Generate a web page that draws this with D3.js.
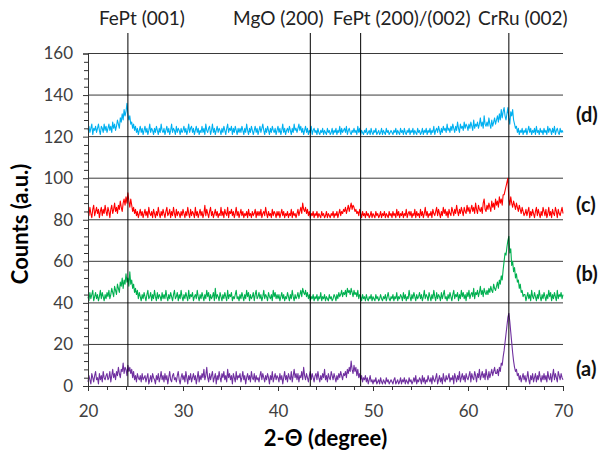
<!DOCTYPE html>
<html>
<head>
<meta charset="utf-8">
<script src="https://cdn.jsdelivr.net/npm/d3@7"></script>
<style>
  body { margin: 0; background: #fff; }
  svg { font-family: Lato, "Open Sans", sans-serif; }
</style>
</head>
<body>
<svg id="chart"></svg>
<script>
const width = 603, height = 451;
const margin = { top: 53.5, right: 40, bottom: 65, left: 88 };

// 2-theta sampling, 20..70 deg in 0.1 deg steps
const angles = d3.range(0, 501).map(i => +(20 + i * 0.1).toFixed(1));

// (a) purple
const seriesA = [
  2,5,3,1,6,4,2,5,7,3, 4,1,6,3,5,2,7,4,3,5,
  6,3,4,7,2,5,8,4,6,3, 7,5,9,6,4,8,7,11,6,9,
  8,5,10,7,9,6,8,4,7,3, 5,2,6,4,3,5,2,6,3,4,
  5,2,4,6,1,3,5,2,6,4, 3,1,5,3,6,2,4,7,3,5,
  2,6,3,5,1,4,7,3,2,5, 6,3,4,2,5,7,3,1,4,6,
  3,5,2,7,4,1,5,3,6,2, 4,6,3,5,1,4,7,2,5,3,
  6,4,8,3,5,9,4,2,6,3, 5,7,2,4,6,1,5,3,7,4,
  2,6,4,7,3,5,2,8,4,6, 3,5,1,6,4,2,7,3,5,4,
  6,2,4,7,3,5,1,4,6,3, 5,2,7,4,3,6,2,5,3,4,
  2,5,7,3,6,4,2,5,3,6, 4,1,5,3,7,2,4,6,3,5,
  4,2,6,3,5,1,4,7,3,5, 2,6,4,3,7,2,5,8,4,6,
  3,6,2,5,4,7,3,9,5,3, 6,4,2,5,7,3,6,4,2,5,
  6,3,7,4,2,5,3,6,4,8, 3,5,2,6,4,3,7,5,3,6,
  4,2,5,3,6,4,7,5,3,6, 5,7,4,8,6,9,7,12,8,6,
  10,7,9,5,8,4,6,3,5,2, 4,3,5,2,4,1,3,5,2,3,
  1,3,2,4,1,2,3,1,4,2, 1,3,2,1,4,2,3,1,2,3,
  2,1,3,4,1,2,3,1,2,4, 1,3,2,4,1,3,2,1,4,2,
  3,1,2,4,2,5,1,3,2,4, 3,1,5,2,4,1,3,2,5,3,
  2,4,1,5,3,2,4,6,1,3, 5,2,4,1,6,3,2,5,3,4,
  6,2,4,3,5,1,6,4,2,5, 3,7,2,4,6,3,5,2,6,4,
  3,5,7,2,6,4,3,7,5,2, 6,4,8,3,5,7,4,6,3,8,
  5,3,7,4,6,8,5,7,9,6, 6,8,5,9,7,11,10,14,17,21,
  25,29,33,35,31,26,21,16,12,9, 7,8,5,6,3,5,2,4,6,3,
  5,2,4,7,3,1,5,3,6,2, 4,6,2,5,3,7,4,2,5,3,
  6,3,5,2,7,4,3,6,2,5, 8,3,6,4,2,7,5,3,6,4,
  3
];

// (b) green
const seriesB = [
  43,41,45,42,44,46,41,43,45,42, 44,41,43,46,42,45,43,41,44,42,
  45,43,46,42,44,47,45,43,48,46, 44,49,47,45,50,48,52,47,51,49,
  54,50,52,48,55,49,51,47,49,45, 47,44,46,42,45,43,41,44,42,45,
  43,41,44,46,42,43,45,41,44,42, 46,43,41,45,42,44,43,41,45,42,
  44,42,46,43,41,44,42,45,43,41, 44,46,42,43,45,41,44,42,46,43,
  41,44,42,45,43,41,46,42,44,43, 45,41,43,44,42,46,43,41,44,42,
  45,43,41,44,42,46,43,45,41,44, 42,43,45,41,47,42,44,43,41,45,
  43,41,44,42,45,43,41,46,42,44, 43,45,41,43,42,44,46,42,43,41,
  44,42,45,43,41,44,42,46,43,45, 41,44,42,43,45,41,44,46,42,43,
  45,42,44,41,43,46,42,44,43,41, 45,43,42,44,41,46,43,45,42,44,
  42,44,41,43,45,42,44,41,43,42, 45,43,41,44,42,46,43,41,44,42,
  43,45,42,44,46,43,47,45,44,46, 43,45,42,44,41,43,42,44,41,43,
  42,44,41,43,42,45,41,43,42,44, 41,43,42,41,44,42,43,41,42,44,
  43,41,44,42,45,43,44,46,43,45, 44,46,43,47,45,46,44,47,45,43,
  46,44,45,43,46,42,44,43,41,44, 42,43,41,44,42,41,43,42,44,41,
  43,42,41,44,42,43,41,42,44,42, 41,43,42,44,41,43,45,42,41,43,
  42,44,41,43,42,45,41,43,42,44, 43,41,45,42,44,41,43,42,46,43,
  41,44,42,45,43,41,44,42,43,45, 42,44,41,43,46,42,44,43,41,45,
  43,41,44,42,46,43,41,45,42,44, 43,41,45,42,44,46,42,43,41,44,
  42,45,43,41,44,46,42,44,43,45, 41,44,42,46,43,45,42,44,41,45,
  43,46,42,44,45,43,47,42,45,44, 46,43,45,48,44,46,43,47,45,44,
  46,44,47,45,48,46,45,49,47,46, 48,50,47,51,49,53,51,56,60,64,
  63,67,70,72,64,66,58,60,55,57, 52,54,50,51,47,49,45,46,43,44,
  44,41,43,45,42,44,41,46,43,42, 45,43,41,44,42,46,43,41,44,42,
  45,43,41,44,42,46,43,45,41,44, 42,45,43,41,46,42,44,43,45,42,
  44
];

// (c) red
const seriesC = [
  84,82,86,83,81,85,87,82,84,86, 83,85,81,84,86,82,85,83,87,84,
  82,86,84,81,85,87,83,85,88,84, 86,83,87,85,89,86,84,88,90,87,
  91,88,93,89,86,90,87,84,86,83, 85,82,84,81,83,85,82,84,81,83,
  85,82,84,81,86,83,82,84,81,85, 83,81,84,82,86,83,81,84,82,85,
  83,81,84,86,82,83,85,81,84,82, 86,83,81,85,82,84,83,81,84,82,
  85,83,81,84,82,86,83,81,85,82, 84,83,81,86,82,84,81,83,85,82,
  84,81,83,87,82,85,83,81,84,86, 82,84,81,83,85,82,84,81,83,82,
  86,82,84,81,85,83,82,86,81,84, 83,85,82,84,81,83,86,82,84,81,
  83,85,82,84,81,83,82,84,81,85, 82,83,81,84,82,83,85,81,84,82,
  84,82,85,81,83,84,82,86,83,81, 84,82,83,81,85,82,84,83,81,84,
  82,84,81,83,85,82,84,81,83,82, 84,81,83,82,85,81,84,82,83,81,
  83,85,82,84,86,83,88,85,84,86, 83,85,82,84,81,83,82,84,81,83,
  82,84,81,83,82,81,84,82,83,81, 82,84,81,83,82,81,83,82,84,81,
  83,82,84,81,83,85,82,84,83,85, 84,86,83,85,87,84,86,88,85,87,
  86,84,85,83,84,82,85,83,81,84, 82,83,81,84,82,83,81,82,84,81,
  83,82,81,84,82,83,81,82,84,81, 83,82,84,81,83,82,81,84,82,83,
  81,84,82,83,81,85,82,84,81,83, 82,84,81,83,82,85,81,83,84,82,
  84,81,83,82,85,81,84,82,83,81, 85,82,84,81,83,86,82,84,81,83,
  82,84,81,85,83,82,84,86,82,85, 83,81,84,82,86,83,85,82,84,81,
  85,83,82,86,84,82,85,83,87,84, 82,85,83,86,84,82,86,84,83,87,
  84,86,83,85,87,84,86,83,88,85, 83,87,85,84,86,83,88,90,85,84,
  87,85,88,86,84,89,86,88,85,90, 87,89,86,91,88,90,87,92,92,94,
  96,98,100,90,87,91,88,86,89,87, 85,88,86,84,87,85,83,86,84,82,
  83,85,82,84,86,81,84,82,85,83, 81,84,86,82,85,83,81,84,82,86,
  84,82,85,81,83,86,82,84,81,85, 83,82,86,84,81,85,83,82,84,86,
  83
];

// (d) cyan
const seriesD = [
  123,125,122,124,126,121,124,123,125,122, 124,126,123,121,125,124,122,126,123,125,
  122,124,126,123,125,122,127,124,126,123, 125,128,126,124,129,127,131,128,133,130,
  132,136,131,128,130,126,127,124,126,123, 125,122,124,121,123,125,122,124,121,123,
  125,122,124,121,123,126,122,124,123,121, 124,122,125,123,121,124,122,126,123,122,
  124,121,123,125,122,124,121,123,126,122, 124,123,121,125,122,124,123,121,124,122,
  123,125,122,124,121,123,126,122,124,125, 122,124,121,123,125,122,124,121,123,122,
  125,122,124,121,126,123,122,124,125,121, 123,126,122,124,121,123,125,122,124,123,
  121,124,122,125,123,121,124,126,122,124, 123,125,121,124,122,125,123,121,124,122,
  124,122,125,123,121,124,122,126,123,121, 124,122,125,123,121,123,125,122,124,121,
  123,125,122,124,126,123,121,124,122,125, 123,121,124,122,125,123,122,124,121,123,
  125,122,124,121,123,126,122,124,121,123, 124,122,125,123,121,124,122,126,123,124,
  122,124,126,123,125,122,124,121,123,125, 122,124,121,123,122,125,121,123,124,122,
  123,121,124,122,121,123,122,124,121,123, 122,121,124,122,123,121,122,124,121,123,
  122,124,121,123,122,125,121,124,122,123, 124,122,125,121,123,124,122,121,123,122,
  124,122,123,121,125,122,124,121,123,122, 121,123,122,124,121,122,123,121,124,122,
  121,123,122,124,121,122,123,121,122,124, 121,123,122,121,124,122,123,121,122,123,
  122,121,123,122,124,121,123,122,121,124, 122,123,121,124,122,121,123,122,124,121,
  123,122,124,121,123,122,121,124,122,123, 121,122,124,121,123,122,124,121,123,122,
  124,121,123,122,125,121,123,124,122,125, 123,121,124,122,125,123,124,122,126,123,
  124,122,125,123,126,124,122,125,123,127, 124,122,126,124,125,123,127,124,126,125,
  123,126,124,127,125,123,128,124,126,125, 127,124,126,129,125,127,124,130,126,125,
  127,125,129,126,124,128,125,127,129,126, 128,130,127,131,128,133,129,132,134,130,
  128,131,134,129,126,132,130,133,128,126, 124,125,122,124,121,123,122,124,121,123,
  122,124,121,123,125,122,124,121,123,122, 124,121,125,122,123,121,124,122,123,121,
  124,122,123,121,125,122,124,123,121,124, 122,125,121,123,124,122,121,124,122,123,
  122
];

const seriesNames = ["(a)", "(b)", "(c)", "(d)"];
const seriesColors = ["#7030a0", "#00b050", "#ff0000", "#00b0f0"];
const seriesValues = [seriesA, seriesB, seriesC, seriesD];

// reference peak positions (degrees) and their labels
const peakLabels = ["FePt (001)", "MgO (200)", "FePt (200)/(002)", "CrRu (002)"];
const peakAngles = [24.2, 43.4, 48.7, 64.3];

const yTicks = [0, 20, 40, 60, 80, 100, 120, 140, 160];
const xTicks = [20, 30, 40, 50, 60, 70];

const svg = d3.select("#chart")
  .attr("width", width)
  .attr("height", height);

const x = d3.scaleLinear().domain([20, 70]).range([margin.left, width - margin.right]);
const y = d3.scaleLinear().domain([0, 160]).range([height - margin.bottom, margin.top]);

// horizontal gridlines
svg.append("g")
  .selectAll("line")
  .data(yTicks.filter(d => d > 0))
  .join("line")
  .attr("x1", x(20))
  .attr("x2", x(70))
  .attr("y1", d => y(d))
  .attr("y2", d => y(d))
  .attr("stroke", "#3a3a3a")
  .attr("stroke-width", 1);

// series
const line = d3.line()
  .x((d, i) => x(angles[i]))
  .y(d => y(d));

svg.append("g")
  .selectAll("path")
  .data(seriesValues)
  .join("path")
  .attr("fill", "none")
  .attr("stroke", (d, i) => seriesColors[i])
  .attr("stroke-width", 1.1)
  .attr("stroke-linejoin", "round")
  .attr("d", d => line(d));

// vertical peak markers
svg.append("g")
  .selectAll("line")
  .data(peakAngles)
  .join("line")
  .attr("x1", d => x(d))
  .attr("x2", d => x(d))
  .attr("y1", 33)
  .attr("y2", y(0))
  .attr("stroke", "#000")
  .attr("stroke-width", 1);

// label shift relative to each marker line
const labelShift = [14, -32, 41, 14];
svg.append("g")
  .selectAll("text")
  .data(peakAngles)
  .join("text")
  .attr("x", (d, i) => x(d) + labelShift[i])
  .attr("y", 25)
  .attr("text-anchor", "middle")
  .attr("font-size", 19)
  .attr("fill", "#222")
  .text((d, i) => peakLabels[i]);

// axes
svg.append("g")
  .attr("transform", `translate(${margin.left},0)`)
  .call(d3.axisLeft(y).tickValues(yTicks).tickSize(5).tickPadding(10));
svg.append("g")
  .attr("transform", `translate(${margin.left},0)`)
  .call(d3.axisLeft(y).tickValues(d3.range(0, 161, 4).filter(d => d % 20)).tickSize(4).tickFormat(""))
  .call(g => g.select(".domain").remove());

svg.append("g")
  .attr("transform", `translate(0,${y(0)})`)
  .call(d3.axisBottom(x).tickValues(xTicks).tickSize(5).tickPadding(14));
svg.append("g")
  .attr("transform", `translate(0,${y(0)})`)
  .call(d3.axisBottom(x).tickValues(d3.range(22, 70, 2).filter(d => d % 10)).tickSize(4).tickFormat(""))
  .call(g => g.select(".domain").remove());

svg.selectAll(".tick line, .domain").attr("stroke", "#333");
svg.selectAll(".tick text").attr("font-size", 17).attr("fill", "#404040").attr("font-family", "Lato, sans-serif");

// series labels
const labelY = [376, 281, 212, 122];
svg.append("g")
  .selectAll("text")
  .data(seriesNames)
  .join("text")
  .attr("x", 576)
  .attr("y", (d, i) => labelY[i])
  .attr("font-size", 20)
  .attr("font-weight", "bold")
  .attr("fill", "#111")
  .text(d => d);

// axis titles
svg.append("text")
  .attr("x", x(45))
  .attr("y", 446)
  .attr("text-anchor", "middle")
  .attr("font-size", 22)
  .attr("font-weight", "bold")
  .text("2-Θ (degree)");

svg.append("text")
  .attr("transform", `translate(28,${y(78)}) rotate(-90)`)
  .attr("text-anchor", "middle")
  .attr("font-size", 22)
  .attr("font-weight", "bold")
  .text("Counts (a.u.)");
</script>
</body>
</html>
